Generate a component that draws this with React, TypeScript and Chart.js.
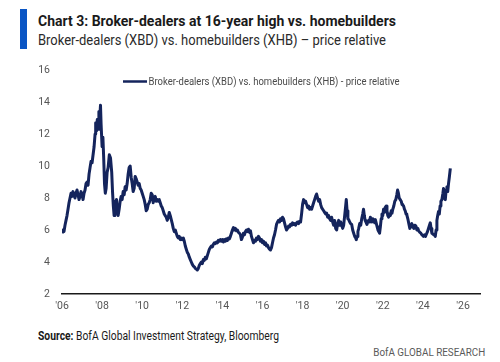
import React, { useEffect, useLayoutEffect, useRef } from 'react';
import { Chart, registerables } from 'chart.js';

Chart.register(...registerables);

// ---- text ----
const titleText = 'Chart 3: Broker-dealers at 16-year high vs. homebuilders';
const subtitleText = 'Broker-dealers (XBD) vs. homebuilders (XHB) – price relative';
const seriesLabel = 'Broker-dealers (XBD) vs. homebuilders (XHB) - price relative';
const sourceLabel = 'Source:';
const sourceText = ' BofA Global Investment Strategy, Bloomberg';
const brandText = 'BofA GLOBAL RESEARCH';

// ---- axes ----
const xTickValues = [2006, 2008, 2010, 2012, 2014, 2016, 2018, 2020, 2022, 2024, 2026];
const xTickLabels = ["'06", "'08", "'10", "'12", "'14", "'16", "'18", "'20", "'22", "'24", "'26"];
const yTickValues = [2, 4, 6, 8, 10, 12, 14, 16];
const yTickLabels = ['2', '4', '6', '8', '10', '12', '14', '16'];

// ---- series (decimal year, price relative) ----
const dates = [
  2006.0, 2006.05, 2006.1, 2006.15, 2006.2, 2006.25, 2006.3, 2006.35, 2006.4, 2006.45,
  2006.5, 2006.55, 2006.6, 2006.65, 2006.7, 2006.75, 2006.8, 2006.85, 2006.9, 2006.95,
  2007.0, 2007.05, 2007.1, 2007.15, 2007.2, 2007.25, 2007.3, 2007.35, 2007.4, 2007.45,
  2007.5, 2007.55, 2007.6, 2007.65, 2007.68, 2007.72, 2007.76, 2007.8, 2007.84, 2007.88,
  2007.92, 2007.95, 2008.0, 2008.04, 2008.08, 2008.12, 2008.16, 2008.2, 2008.25, 2008.3,
  2008.36, 2008.42, 2008.48, 2008.52, 2008.56, 2008.6, 2008.64, 2008.68, 2008.72, 2008.76,
  2008.8, 2008.85, 2008.9, 2008.95, 2009.0, 2009.05, 2009.1, 2009.15, 2009.2, 2009.25,
  2009.3, 2009.35, 2009.4, 2009.45, 2009.5, 2009.55, 2009.6, 2009.65, 2009.7, 2009.75,
  2009.8, 2009.85, 2009.9, 2009.95, 2010.0, 2010.05, 2010.1, 2010.15, 2010.2, 2010.25,
  2010.3, 2010.35, 2010.4, 2010.45, 2010.5, 2010.55, 2010.6, 2010.65, 2010.7, 2010.75,
  2010.8, 2010.85, 2010.9, 2010.95, 2011.0, 2011.05, 2011.1, 2011.15, 2011.2, 2011.25,
  2011.3, 2011.35, 2011.4, 2011.45, 2011.5, 2011.55, 2011.6, 2011.65, 2011.7, 2011.75,
  2011.8, 2011.85, 2011.9, 2011.95, 2012.0, 2012.05, 2012.1, 2012.15, 2012.2, 2012.25,
  2012.3, 2012.35, 2012.4, 2012.45, 2012.5, 2012.55, 2012.6, 2012.65, 2012.7, 2012.75,
  2012.8, 2012.85, 2012.9, 2012.95, 2013.0, 2013.05, 2013.1, 2013.15, 2013.2, 2013.25,
  2013.3, 2013.35, 2013.4, 2013.45, 2013.5, 2013.55, 2013.6, 2013.65, 2013.7, 2013.75,
  2013.8, 2013.85, 2013.9, 2013.95, 2014.0, 2014.05, 2014.1, 2014.15, 2014.2, 2014.25,
  2014.3, 2014.35, 2014.4, 2014.45, 2014.5, 2014.55, 2014.6, 2014.65, 2014.7, 2014.75,
  2014.8, 2014.85, 2014.9, 2014.95, 2015.0, 2015.05, 2015.1, 2015.15, 2015.2, 2015.25,
  2015.3, 2015.35, 2015.4, 2015.45, 2015.5, 2015.55, 2015.6, 2015.65, 2015.7, 2015.75,
  2015.8, 2015.85, 2015.9, 2015.95, 2016.0, 2016.05, 2016.1, 2016.15, 2016.2, 2016.25,
  2016.3, 2016.35, 2016.4, 2016.45, 2016.5, 2016.55, 2016.6, 2016.65, 2016.7, 2016.75,
  2016.8, 2016.85, 2016.9, 2016.95, 2017.0, 2017.05, 2017.1, 2017.15, 2017.2, 2017.25,
  2017.3, 2017.35, 2017.4, 2017.45, 2017.5, 2017.55, 2017.6, 2017.65, 2017.7, 2017.75,
  2017.8, 2017.85, 2017.9, 2017.95, 2018.0, 2018.05, 2018.1, 2018.15, 2018.2, 2018.25,
  2018.3, 2018.35, 2018.4, 2018.45, 2018.5, 2018.55, 2018.6, 2018.65, 2018.7, 2018.75,
  2018.8, 2018.85, 2018.9, 2018.95, 2019.0, 2019.05, 2019.1, 2019.15, 2019.2, 2019.25,
  2019.3, 2019.35, 2019.4, 2019.45, 2019.5, 2019.55, 2019.6, 2019.65, 2019.7, 2019.75,
  2019.8, 2019.85, 2019.9, 2019.95, 2020.0, 2020.05, 2020.1, 2020.15, 2020.18, 2020.22,
  2020.26, 2020.3, 2020.35, 2020.4, 2020.45, 2020.5, 2020.55, 2020.6, 2020.65, 2020.68,
  2020.72, 2020.76, 2020.8, 2020.85, 2020.9, 2020.95, 2021.0, 2021.04, 2021.08, 2021.12,
  2021.16, 2021.21, 2021.25, 2021.3, 2021.35, 2021.38, 2021.42, 2021.46, 2021.5, 2021.55,
  2021.6, 2021.63, 2021.68, 2021.72, 2021.76, 2021.8, 2021.84, 2021.88, 2021.92, 2021.96,
  2022.0, 2022.04, 2022.08, 2022.12, 2022.17, 2022.21, 2022.25, 2022.29, 2022.33, 2022.38,
  2022.42, 2022.46, 2022.5, 2022.55, 2022.6, 2022.65, 2022.7, 2022.74, 2022.78, 2022.82,
  2022.87, 2022.92, 2022.96, 2023.0, 2023.04, 2023.08, 2023.12, 2023.16, 2023.2, 2023.25,
  2023.3, 2023.35, 2023.4, 2023.45, 2023.5, 2023.55, 2023.6, 2023.65, 2023.7, 2023.75,
  2023.79, 2023.85, 2023.9, 2023.95, 2024.0, 2024.03, 2024.08, 2024.13, 2024.18, 2024.23,
  2024.28, 2024.33, 2024.37, 2024.41, 2024.45, 2024.5, 2024.55, 2024.6, 2024.62, 2024.66,
  2024.7, 2024.74, 2024.78, 2024.82, 2024.86, 2024.9, 2024.95, 2025.0, 2025.03, 2025.07,
  2025.12, 2025.16, 2025.2, 2025.24, 2025.28, 2025.32, 2025.37,
];
const ratio = [
  5.8, 6.0, 5.9, 6.3, 6.6, 6.9, 7.3, 7.7, 8.0, 8.3,
  8.1, 8.4, 8.2, 8.0, 8.3, 8.5, 8.2, 7.9, 8.1, 8.4,
  8.2, 7.9, 8.3, 8.5, 8.9, 9.0, 8.8, 9.5, 9.9, 10.3,
  10.2, 10.7, 11.2, 12.0, 12.7, 12.2, 12.9, 12.3, 13.4, 12.9,
  13.8, 12.6, 11.2, 11.8, 10.5, 8.9, 8.3, 8.6, 9.6, 9.9,
  10.7, 10.5, 9.6, 8.4, 7.5, 6.9, 7.8, 7.5, 7.9, 7.2,
  6.9, 7.3, 7.8, 8.1, 7.9, 8.4, 8.2, 8.7, 8.5, 8.9,
  9.5, 9.9, 10.0, 9.3, 8.9, 8.4, 8.6, 9.35, 9.2, 9.0,
  8.8, 8.9, 8.6, 8.5, 8.3, 8.1, 7.9, 7.6, 7.2, 7.3,
  7.6, 7.7, 7.9, 8.3, 8.2, 7.7, 8.0, 8.1, 7.8, 7.9,
  7.8, 7.9, 7.7, 7.5, 7.4, 7.2, 7.0, 6.9, 6.8, 6.6,
  6.8, 7.1, 6.9, 6.65, 6.4, 6.1, 5.9, 6.0, 5.8, 5.6,
  5.5, 5.6, 5.4, 5.5, 5.4, 5.5, 5.3, 5.0, 4.8, 4.6,
  4.5, 4.3, 4.15, 4.0, 3.85, 3.75, 3.7, 3.6, 3.55, 3.5,
  3.6, 3.8, 3.9, 4.0, 3.9, 4.15, 4.1, 4.3, 4.2, 4.4,
  4.6, 4.8, 4.9, 5.0, 4.95, 5.1, 5.2, 5.15, 5.25, 5.2,
  5.35, 5.3, 5.4, 5.3, 5.4, 5.25, 5.4, 5.3, 5.45, 5.35,
  5.5, 5.45, 5.6, 5.8, 6.0, 6.15, 6.0, 6.1, 5.95, 6.0,
  5.85, 5.8, 5.7, 5.4, 5.55, 5.8, 5.7, 5.9, 6.0, 5.9,
  6.05, 5.85, 5.95, 5.6, 5.4, 5.2, 5.35, 5.3, 5.5, 5.4,
  5.6, 5.5, 5.3, 5.4, 5.2, 5.3, 5.1, 5.2, 5.0, 5.05,
  4.9, 4.8, 4.75, 4.9, 5.2, 5.5, 5.7, 6.0, 6.35, 6.5,
  6.6, 6.5, 6.7, 6.6, 6.8, 6.7, 6.45, 6.2, 6.0, 6.1,
  6.25, 6.2, 6.35, 6.3, 6.45, 6.35, 6.4, 6.3, 6.45, 6.5,
  6.4, 6.55, 6.5, 7.0, 7.6, 7.9, 7.7, 7.8, 7.6, 7.4,
  7.5, 7.3, 7.4, 7.3, 7.5, 7.7, 7.9, 8.1, 8.25, 8.0,
  7.8, 7.9, 7.6, 7.4, 7.3, 7.2, 7.1, 7.0, 7.05, 6.8,
  6.9, 6.7, 6.6, 6.8, 6.5, 6.3, 6.6, 6.1, 6.0, 6.4,
  6.6, 6.3, 6.5, 6.3, 6.1, 6.3, 6.9, 7.5, 7.9, 7.2,
  6.7, 6.65, 6.5, 6.4, 6.35, 6.0, 5.8, 5.6, 5.5, 5.4,
  5.6, 5.9, 6.1, 6.4, 6.3, 6.7, 7.0, 7.3, 6.9, 6.6,
  6.5, 6.35, 6.5, 6.6, 6.5, 6.8, 6.6, 6.5, 6.7, 6.6,
  6.45, 6.65, 6.4, 6.2, 6.0, 5.9, 5.8, 6.2, 6.7, 7.0,
  6.9, 7.3, 7.1, 7.4, 7.5, 7.2, 6.9, 6.8, 7.0, 6.9,
  7.2, 7.05, 7.3, 7.5, 7.8, 7.9, 8.2, 8.5, 8.3, 8.0,
  7.9, 7.8, 7.6, 7.55, 7.5, 7.3, 7.2, 7.0, 6.95, 6.7,
  6.4, 6.1, 6.2, 6.4, 6.2, 6.1, 6.3, 6.25, 6.0, 6.1,
  5.95, 5.85, 5.8, 5.7, 5.65, 5.6, 5.7, 5.6, 5.75, 5.9,
  6.1, 6.3, 6.45, 6.1, 5.8, 5.75, 5.7, 5.65, 5.6, 6.0,
  6.6, 6.9, 7.15, 7.0, 7.5, 7.8, 7.9, 8.3, 8.6, 8.0,
  7.9, 8.5, 8.7, 8.4, 8.9, 9.3, 9.85,
];

const X_MIN = 2006;
const X_MAX = 2026.85;
const Y_MIN = 2;
const Y_MAX = 16;

const LINE_COLOR = '#14245c';
const TICK_COLOR = '#555555';
const FONT = 'Roboto, "Open Sans", sans-serif';

function FitText(props: { width: number; origin?: string; style?: React.CSSProperties; children: React.ReactNode }) {
  const ref = useRef<HTMLSpanElement>(null);
  useLayoutEffect(() => {
    const el = ref.current;
    if (!el) return;
    el.style.transform = 'none';
    const w = el.getBoundingClientRect().width;
    if (w > 0) el.style.transform = `scaleX(${props.width / w})`;
  }, [props.width]);
  return (
    <span
      ref={ref}
      style={{
        display: 'inline-block',
        whiteSpace: 'nowrap',
        transformOrigin: props.origin || 'left top',
        ...props.style,
      }}
    >
      {props.children}
    </span>
  );
}

const inlineLegend = {
  id: 'inlineLegend',
  afterDraw(chart: any) {
    const { ctx, chartArea } = chart;
    const ds = chart.data.datasets[0];
    const x0 = chartArea.left + 61;
    const yMid = chartArea.top + 11.5;
    ctx.save();
    ctx.strokeStyle = ds.borderColor;
    ctx.lineWidth = 2.5;
    ctx.beginPath();
    ctx.moveTo(x0, yMid);
    ctx.lineTo(x0 + 24, yMid);
    ctx.stroke();
    ctx.font = `10px ${FONT}`;
    ctx.fillStyle = '#4a4a4a';
    ctx.textBaseline = 'alphabetic';
    ctx.textAlign = 'left';
    const label = ds.label as string;
    const w = ctx.measureText(label).width;
    const target = 251;
    ctx.translate(x0 + 25.5, yMid + 3.6);
    ctx.scale(target / w, 1);
    ctx.fillText(label, 0, 0);
    ctx.restore();
  },
};

function ChartCanvas() {
  const canvasRef = useRef<HTMLCanvasElement>(null);
  useEffect(() => {
    const canvas = canvasRef.current;
    if (!canvas) return;
    const points = dates.map((d, i) => ({ x: d, y: ratio[i] }));
    const chart = new Chart(canvas, {
      type: 'line',
      data: {
        datasets: [
          {
            label: seriesLabel,
            data: points,
            borderColor: LINE_COLOR,
            backgroundColor: LINE_COLOR,
            borderWidth: 3,
            pointRadius: 0,
            tension: 0,
            borderJoinStyle: 'round',
            fill: false,
          },
        ],
      },
      options: {
        animation: false,
        responsive: false,
        devicePixelRatio: 1,
        layout: { padding: { top: 20, right: 20, left: 0, bottom: 0 } },
        plugins: {
          legend: { display: false },
          tooltip: { enabled: false },
          title: { display: false },
        },
        scales: {
          x: {
            type: 'linear',
            min: X_MIN,
            max: X_MAX,
            grid: { display: false, drawTicks: false },
            border: { display: true, color: '#1a1a1a', width: 1.6 },
            afterBuildTicks: (axis: any) => {
              axis.ticks = xTickValues.map((v) => ({ value: v }));
            },
            afterFit: (axis: any) => {
              axis.height = 30;
            },
            ticks: {
              autoSkip: false,
              maxRotation: 0,
              minRotation: 0,
              padding: 6,
              color: TICK_COLOR,
              font: { family: FONT, size: 10.5 },
              callback: (v: any) => {
                const i = xTickValues.indexOf(Number(v));
                return i >= 0 ? xTickLabels[i] : '';
              },
            },
          },
          y: {
            type: 'linear',
            min: Y_MIN,
            max: Y_MAX,
            grid: { display: false, drawTicks: false },
            border: { display: false },
            afterBuildTicks: (axis: any) => {
              axis.ticks = yTickValues.map((v) => ({ value: v }));
            },
            afterFit: (axis: any) => {
              axis.width = 62;
            },
            ticks: {
              padding: 12,
              color: TICK_COLOR,
              font: { family: FONT, size: 10.5 },
              callback: (v: any) => {
                const i = yTickValues.indexOf(Number(v));
                return i >= 0 ? yTickLabels[i] : '';
              },
            },
          },
        },
      },
      plugins: [inlineLegend],
    } as any);
    return () => chart.destroy();
  }, []);
  return (
    <canvas
      ref={canvasRef}
      width={500}
      height={274}
      style={{ position: 'absolute', left: 0, top: 50, width: 500, height: 274, display: 'block' }}
    />
  );
}

export default function App() {
  return (
    <div
      style={{
        position: 'absolute',
        left: 0,
        top: 0,
        width: 500,
        height: 362,
        background: '#ffffff',
        overflow: 'hidden',
        fontFamily: FONT,
      }}
    >
      <div style={{ position: 'absolute', left: 20, top: 9, width: 7, height: 40, background: '#0a55c4' }} />
      <div style={{ position: 'absolute', left: 38, top: 13.6, lineHeight: 1, fontSize: 15.5, fontWeight: 700, color: '#1a1a1a' }}>
        <FitText width={358}>{titleText}</FitText>
      </div>
      <div style={{ position: 'absolute', left: 38, top: 33.8, lineHeight: 1, fontSize: 14.5, fontWeight: 400, color: '#2a2a2a' }}>
        <FitText width={348}>{subtitleText}</FitText>
      </div>
      <ChartCanvas />
      <div style={{ position: 'absolute', left: 38, top: 330, lineHeight: 1, fontSize: 12, color: '#1a1a1a' }}>
        <FitText width={241}>
          <b>{sourceLabel}</b>
          {sourceText}
        </FitText>
      </div>
      <div style={{ position: 'absolute', right: 15, top: 348, lineHeight: 1, fontSize: 10.5, color: '#5a5a5a' }}>
        <FitText width={112} origin="right top">{brandText}</FitText>
      </div>
    </div>
  );
}
